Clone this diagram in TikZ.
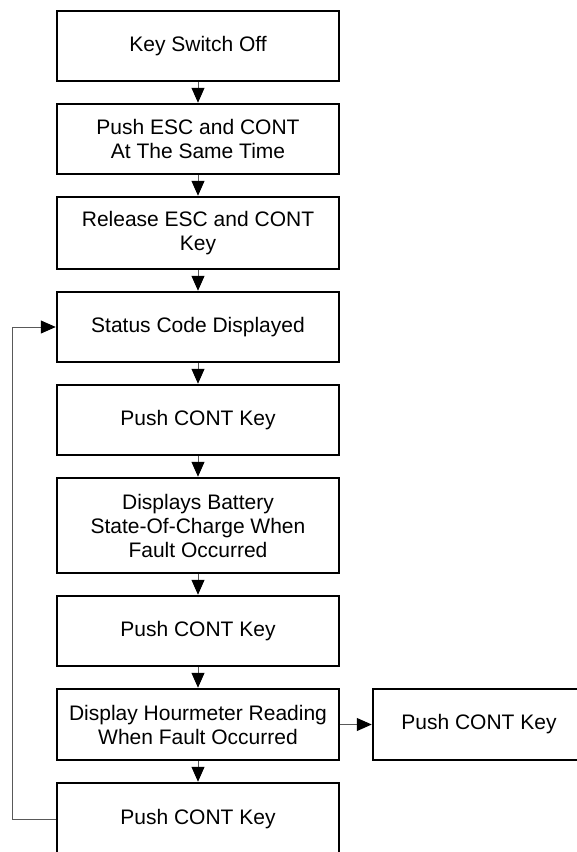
\documentclass[tikz,border=0pt]{standalone}
\usepackage{fontspec}
\setmainfont{Liberation Sans}
\usetikzlibrary{arrows.meta}
\begin{document}
\begin{tikzpicture}[x=1pt,y=-1pt,
 stepbox/.style={draw=black, line width=2.5pt, minimum width=282pt, minimum height=70pt, align=center, font=\fontsize{21}{24}\selectfont, inner sep=0pt},
 conn/.style={draw=black!65, line width=1pt, -{Triangle[length=15pt,width=13pt,black]}}]
\useasboundingbox (0,0) rectangle (577,852);
\node[stepbox] (a) at (198,46) {Key Switch Off};
\node[stepbox] (b) at (198,139) {Push ESC and CONT\\At The Same Time};
\node[stepbox, minimum height=72pt] (c) at (198,233) {Release ESC and CONT\\Key};
\node[stepbox] (d) at (198,327) {Status Code Displayed};
\node[stepbox] (e) at (198,420) {Push CONT Key};
\node[stepbox, minimum height=95pt] (f) at (198,525.5) {Displays Battery\\State-Of-Charge When\\Fault Occurred};
\node[stepbox] (g) at (198,631) {Push CONT Key};
\node[stepbox, minimum height=71pt] (h) at (198,724.5) {Display Hourmeter Reading\\When Fault Occurred};
\node[stepbox, minimum height=72pt] (i) at (198,819) {Push CONT Key};
\node[stepbox, minimum width=212pt, minimum height=71pt] (j) at (479,724.5) {Push CONT Key};
\coordinate (loop) at (12,819);
\draw[conn] (a) -- (b);
\draw[conn] (b) -- (c);
\draw[conn] (c) -- (d);
\draw[conn] (d) -- (e);
\draw[conn] (e) -- (f);
\draw[conn] (f) -- (g);
\draw[conn] (g) -- (h);
\draw[conn] (h) -- (i);
\draw[conn] (h) -- (j);
\draw[conn] (i.west) -- (loop) |- (d.west);
\end{tikzpicture}
\end{document}
